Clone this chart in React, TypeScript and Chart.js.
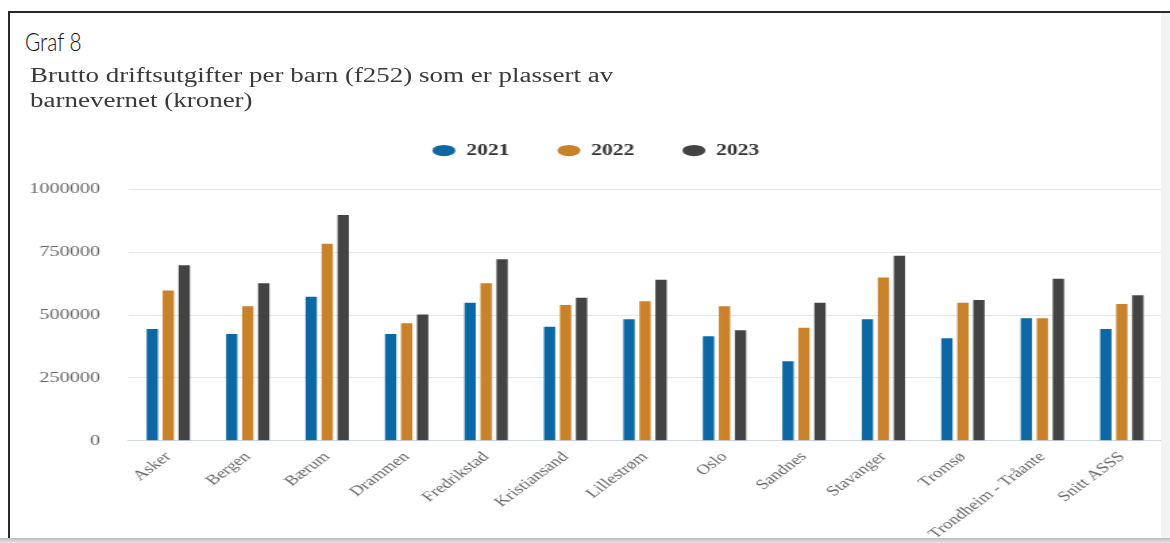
import React, { useEffect, useRef } from "react";
import { Chart, registerables } from "chart.js";

Chart.register(...registerables);

const categories = [
  "Asker",
  "Bergen",
  "Bærum",
  "Drammen",
  "Fredrikstad",
  "Kristiansand",
  "Lillestrøm",
  "Oslo",
  "Sandnes",
  "Stavanger",
  "Tromsø",
  "Trondheim - Tråante",
  "Snitt ASSS",
];
const values2021 = [445000, 425000, 573000, 425000, 549000, 454000, 483000, 416000, 316000, 483000, 408000, 487000, 445000];
const values2022 = [598000, 535000, 784000, 468000, 627000, 540000, 555000, 535000, 450000, 650000, 549000, 487000, 544000];
const values2023 = [698000, 627000, 898000, 502000, 722000, 569000, 641000, 440000, 549000, 736000, 560000, 645000, 579000];
const seriesLabels = ["2021", "2022", "2023"];
const seriesColors = ["#0b68a4", "#c9822a", "#434343"];
const yTicks = [0, 250000, 500000, 750000, 1000000];

const titleText = "Graf 8";
const subtitleLine1 = "Brutto driftsutgifter per barn (f252) som er plassert av";
const subtitleLine2 = "barnevernet (kroner)";

const SX = 1.35;
const SERIF = "'Liberation Serif', 'Times New Roman', serif";

export default function App() {
  const canvasRef = useRef<HTMLCanvasElement>(null);

  useEffect(() => {
    if (!canvasRef.current) return;
    const legendTweak = {
      id: "legendTweak",
      beforeInit(chart: any) {
        const legend = chart.legend;
        if (!legend) return;
        const origFit = legend.fit;
        legend.fit = function () {
          origFit.call(this);
          this.height = 84.5;
        };
      },
      afterLayout(chart: any) {
        const l = chart.legend;
        if (l) {
          l.left += 7.5;
          l.right += 7.5;
          l.top += 2;
          l.bottom += 2;
        }
      },
    };
    const seriesValues = [values2021, values2022, values2023];
    const chart = new Chart(canvasRef.current, {
      type: "bar",
      data: {
        labels: categories,
        datasets: seriesLabels.map((label, i) => ({
          label,
          data: seriesValues[i],
          backgroundColor: seriesColors[i],
          borderWidth: 0,
          categoryPercentage: 0.604,
          barPercentage: 0.706,
        })),
      },
      options: {
        animation: false,
        responsive: true,
        maintainAspectRatio: false,
        layout: { padding: 0 },
        plugins: {
          tooltip: { enabled: false },
          legend: {
            position: "top",
            labels: {
              usePointStyle: true,
              pointStyle: "circle",
              pointStyleWidth: 17,
              boxHeight: 8,
              padding: 35.6,
              color: "#333",
              font: { family: SERIF, size: 16, weight: "bold" },
            },
          },
        },
        scales: {
          x: {
            afterFit(s: any) {
              s.height = 97.3;
            },
            grid: { display: false, drawTicks: false },
            border: { display: true, color: "#ccd6eb", width: 1 },
            ticks: {
              autoSkip: false,
              minRotation: 45,
              maxRotation: 45,
              padding: 8,
              color: "#666",
              font: { family: SERIF, size: 14 },
            },
          },
          y: {
            min: 0,
            max: 1000000,
            afterFit(s: any) {
              s.width = 87.8;
            },
            afterBuildTicks(s: any) {
              s.ticks = yTicks.map((v) => ({ value: v }));
            },
            grid: {
              drawTicks: false,
              color: (ctx: any) => (ctx.tick && ctx.tick.value === 0 ? "rgba(0,0,0,0)" : "#e6e6e6"),
              lineWidth: 1,
            },
            border: { display: false },
            ticks: {
              padding: 21,
              color: "#666",
              font: { family: SERIF, size: 15 },
              callback: (v: any) => String(v),
            },
          },
        },
      },
      plugins: [legendTweak],
    } as any);
    return () => chart.destroy();
  }, []);

  return (
    <div style={{ position: "fixed", left: 0, top: 0, width: 1170, height: 543, overflow: "hidden", background: "#fff" }}>
      <div
        style={{
          position: "absolute",
          left: 7.5,
          top: 11,
          width: 1170,
          height: 600,
          borderTop: "2px solid #2a2a2a",
          borderLeft: "2px solid #2a2a2a",
          boxSizing: "border-box",
        }}
      />
      <div
        style={{
          position: "absolute",
          left: 25,
          top: 25,
          fontFamily: "Lato, 'Open Sans', sans-serif",
          fontWeight: 300,
          fontSize: 26,
          lineHeight: "32px",
          color: "#111",
          transform: "scaleX(0.8)",
          transformOrigin: "0 0",
          whiteSpace: "nowrap",
        }}
      >
        {titleText}
      </div>
      <div
        style={{
          position: "absolute",
          left: 10,
          top: 0,
          width: 853,
          height: 543,
          transform: `scaleX(${SX})`,
          transformOrigin: "0 0",
        }}
      >
        <div
          style={{
            position: "absolute",
            left: 14.8,
            top: 62.7,
            fontFamily: SERIF,
            fontSize: 20,
            lineHeight: "25.5px",
            color: "#3a3a3a",
            whiteSpace: "nowrap",
          }}
        >
          {subtitleLine1}
          <br />
          {subtitleLine2}
        </div>
        <div style={{ position: "absolute", left: 0, top: 105, width: 853, height: 433 }}>
          <canvas ref={canvasRef} />
        </div>
      </div>
      <div style={{ position: "absolute", left: 1161, top: 13, width: 9, height: 525, background: "#f3f3f3" }} />
      <div
        style={{
          position: "absolute",
          left: 0,
          top: 538,
          width: 1170,
          height: 5,
          background: "linear-gradient(#bcbcbc, #e6e6e6)",
        }}
      />
    </div>
  );
}
